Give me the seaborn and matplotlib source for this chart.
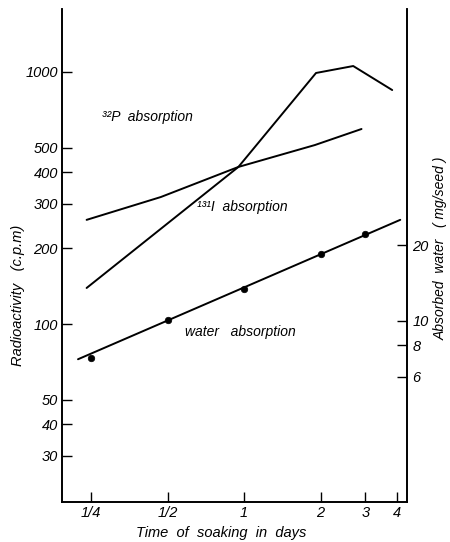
import matplotlib
matplotlib.use("Agg")
import matplotlib.pyplot as plt
from matplotlib.ticker import NullLocator
import pandas as pd
import seaborn as sns

# Soaking time (days) vs. radioactivity of the seeds (c.p.m.)
p32_days = [0.24, 0.47, 0.95, 1.9, 2.9]
p32_cpm = [259, 319, 420, 513, 594]

i131_days = [0.24, 0.95, 1.92, 2.69, 3.83]
i131_cpm = [139, 420, 991, 1056, 848]

# Water taken up by the seeds (mg/seed): measured points and fitted line
water_days = [0.25, 0.5, 1, 2, 3]
water_mg = [7.15, 10.1, 13.4, 18.4, 22.1]
water_fit_days = [0.222, 4.12]
water_fit_mg = [7.05, 25.2]

x_ticks = [0.25, 0.5, 1, 2, 3, 4]
x_tick_labels = ["1/4", "1/2", "1", "2", "3", "4"]
cpm_ticks = [30, 40, 50, 100, 200, 300, 400, 500, 1000]
mg_ticks = [6, 8, 10, 20]

sns.set_style("ticks")
plt.rcParams["font.family"] = ["Liberation Sans", "DejaVu Sans"]
plt.rcParams["font.style"] = "italic"
plt.rcParams["font.size"] = 10
for key in ("text.color", "axes.labelcolor", "xtick.color", "ytick.color", "axes.edgecolor"):
    plt.rcParams[key] = "black"

fig = plt.figure(figsize=(4.5, 5.42), dpi=100)
ax = fig.add_axes([62 / 450, 1 - 502 / 542, 345 / 450, 493 / 542])
ax2 = ax.twinx()

line_kw = dict(color="black", linewidth=1.4)

p32 = pd.DataFrame({"days": p32_days, "cpm": p32_cpm})
i131 = pd.DataFrame({"days": i131_days, "cpm": i131_cpm})
sns.lineplot(data=p32, x="days", y="cpm", ax=ax, **line_kw)
sns.lineplot(data=i131, x="days", y="cpm", ax=ax, **line_kw)

fit = pd.DataFrame({"days": water_fit_days, "mg": water_fit_mg})
pts = pd.DataFrame({"days": water_days, "mg": water_mg})
sns.lineplot(data=fit, x="days", y="mg", ax=ax2, **line_kw)
sns.scatterplot(data=pts, x="days", y="mg", ax=ax2, color="black", s=22,
                edgecolor="black", linewidth=0.5, zorder=5)

for a in (ax, ax2):
    a.set_xscale("log")
    a.set_yscale("log")
ax.set_xlim(0.192, 4.38)
ax.set_ylim(19.67, 1778)
ax2.set_ylim(1.913, 173)

ax.set_xticks(x_ticks, x_tick_labels)
ax.set_yticks(cpm_ticks, [str(v) for v in cpm_ticks])
ax2.set_yticks(mg_ticks, [str(v) for v in mg_ticks])
for a in (ax, ax2):
    a.xaxis.set_minor_locator(NullLocator())
    a.yaxis.set_minor_locator(NullLocator())

ax.tick_params(axis="both", direction="in", length=7, width=1, pad=3, labelsize=10.5)
ax2.tick_params(axis="y", direction="in", length=7, width=1, pad=4, labelsize=10.5)

ax.spines["top"].set_visible(False)
ax2.spines["top"].set_visible(False)
for a in (ax, ax2):
    for s in a.spines.values():
        s.set_linewidth(1.2)

ax.set_xlabel("Time  of  soaking  in  days", fontsize=10.5)
ax.set_ylabel("Radioactivity   (c.p.m)", fontsize=10.5)
ax2.set_ylabel("Absorbed  water   ( mg/seed )", fontsize=10)
ax.xaxis.set_label_coords(0.461, -0.048)
ax.yaxis.set_label_coords(-0.107, 0.42)
ax2.yaxis.set_label_coords(1.076, 0.515)

ax.text(0.276, 663, "³²P  absorption", ha="left", va="center", fontsize=10)
ax.text(0.653, 291, "¹³¹I  absorption", ha="left", va="center", fontsize=10)
ax.text(0.586, 92.9, "water   absorption", ha="left", va="center", fontsize=10)

fig.savefig("out.png", dpi=100)
